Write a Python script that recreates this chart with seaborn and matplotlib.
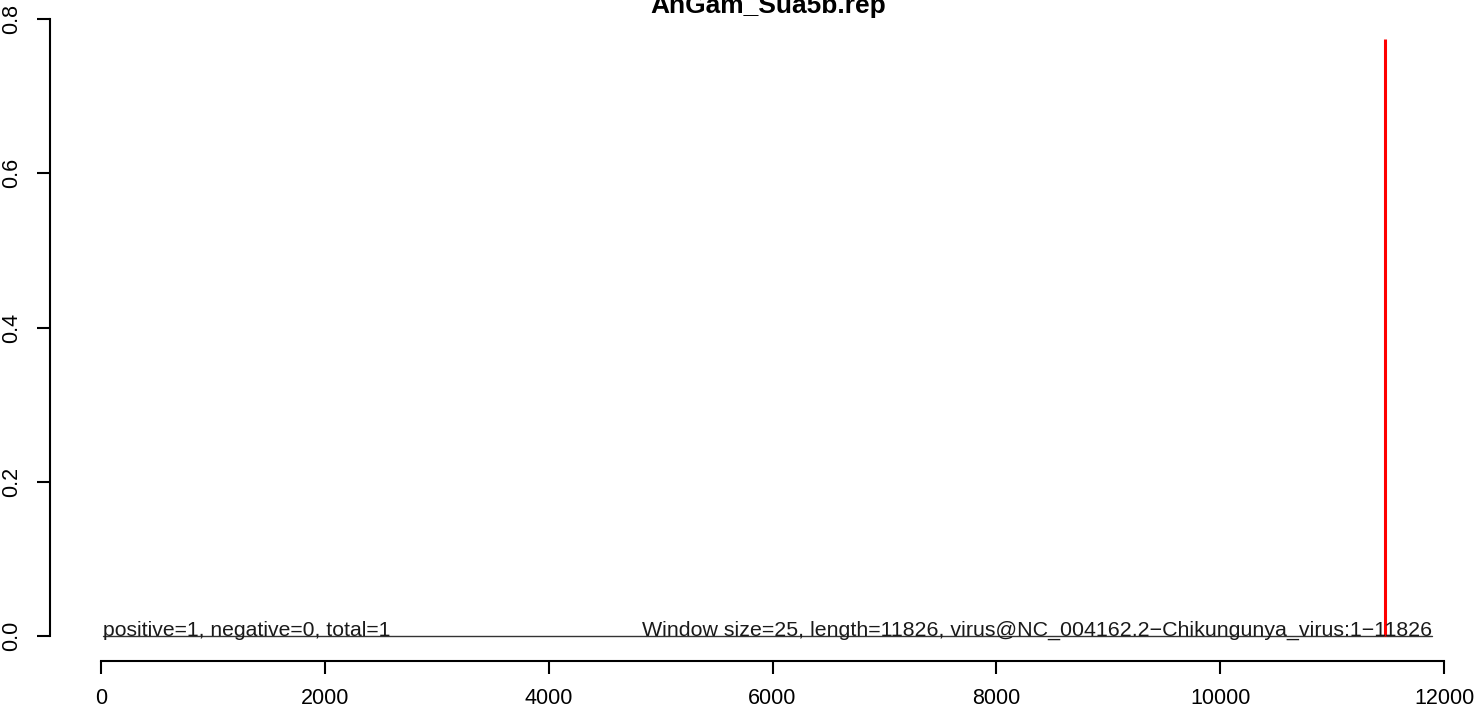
import numpy as np
import pandas as pd
import matplotlib
matplotlib.use('Agg')
import matplotlib.pyplot as plt
import seaborn as sns

# Data
title = 'AnGam_Sua5b.rep'
hit_pos = [11475]
hit_val = [0.774]
base_x = [20, 11890]
base_y = [0.0, 0.0]
x_ticks = [0, 2000, 4000, 6000, 8000, 10000, 12000]
y_ticks = [0.0, 0.2, 0.4, 0.6, 0.8]
left_note = 'positive=1, negative=0, total=1'
right_note = 'Window size=25, length=11826, virus@NC_004162.2\u2212Chikungunya_virus:1\u221211826'

sns.set_style('white')
plt.rcParams['font.family'] = ['Liberation Sans', 'DejaVu Sans']
plt.rcParams['text.color'] = 'black'
plt.rcParams['xtick.color'] = 'black'
plt.rcParams['ytick.color'] = 'black'

W, H = 1480, 711
fig = plt.figure(figsize=(W / 100, H / 100), dpi=100)
ax = fig.add_axes([101 / W, (H - 636) / H, (1444 - 101) / W, (636 - 19) / H])

df_base = pd.DataFrame({'x': base_x, 'y': base_y})
sns.lineplot(data=df_base, x='x', y='y', ax=ax, color='#333333', lw=1.0)
for ln in ax.lines:
    ln.set_clip_on(False)
ax.vlines(hit_pos, 0, hit_val, color='red', lw=2.2, clip_on=False)

ax.text(base_x[0], 0.0, left_note, ha='left', va='baseline', fontsize=15.2, color='#1a1a1a')
ax.text(base_x[1], 0.0, right_note, ha='right', va='baseline', fontsize=15.4, color='#1a1a1a')

ax.set_xlim(0, 12000)
ax.set_ylim(0, 0.8)
ax.set_xticks(x_ticks)
ax.set_xticklabels([str(t) for t in x_ticks])
ax.set_yticks(y_ticks)
ax.set_yticklabels([f'{t:.1f}' for t in y_ticks])
ax.set_xlabel('')
ax.set_ylabel('')

for s in ['top', 'right']:
    ax.spines[s].set_visible(False)
ax.spines['left'].set_position(('outward', 51 * 0.72))
ax.spines['bottom'].set_position(('outward', 25 * 0.72))
for s in ['left', 'bottom']:
    ax.spines[s].set_color('black')
    ax.spines[s].set_linewidth(1.5)
ax.tick_params(axis='both', which='major', length=9.4, width=1.5, color='black',
               labelsize=15.5, labelcolor='black', direction='out', left=True, bottom=True)
ax.tick_params(axis='x', pad=10)
ax.tick_params(axis='y', pad=11, labelrotation=90)
for lab in ax.get_yticklabels():
    lab.set_va('center')

fig.text(768 / W, 1 - 13 / H, title, ha='center', va='baseline',
         fontsize=19, fontweight='bold')

fig.savefig('out.png', dpi=100)
